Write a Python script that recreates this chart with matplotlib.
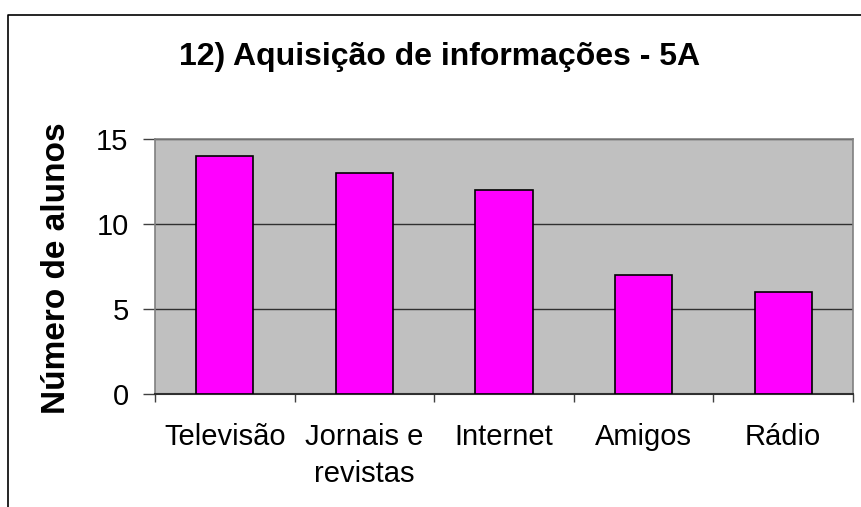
import matplotlib
matplotlib.use("Agg")
import matplotlib.pyplot as plt
from matplotlib.lines import Line2D
import numpy as np

plt.rcParams['font.family'] = ['Liberation Sans', 'DejaVu Sans']

categories = ["Televisão", "Jornais e\nrevistas", "Internet", "Amigos", "Rádio"]
values = [14, 13, 12, 7, 6]
yticks = [0, 5, 10, 15]
title = "12) Aquisição de informações - 5A"
ylabel = "Número de alunos"

W, H = 861, 507
fig = plt.figure(figsize=(W / 100, H / 100), dpi=100)
fig.patch.set_facecolor("white")

# outer chart border (left and top visible)
fig.add_artist(Line2D([8 / W, 8 / W, 1.0], [0.0, 1 - 15 / H, 1 - 15 / H],
                      transform=fig.transFigure, color="black", lw=1.2))

ax = fig.add_axes([155 / W, 1 - 394 / H, (853 - 155) / W, (394 - 139) / H])
ax.set_facecolor("#C0C0C0")

x = np.arange(len(categories))
ax.bar(x, values, width=0.41, color="#FF00FF", edgecolor="black", linewidth=1.2, zorder=3)

ax.set_xlim(-0.5, len(categories) - 0.5)
ax.set_ylim(0, 15)
ax.set_yticks(yticks)
ax.set_yticklabels([str(v) for v in yticks], fontsize=21)
ax.set_xticks(x)
ax.set_xticklabels(categories, fontsize=21, linespacing=1.42, va="top")
ax.set_xticks(np.arange(-0.5, len(categories), 1.0), minor=True)

ax.tick_params(axis="x", which="major", length=0, pad=21)
ax.tick_params(axis="x", which="minor", length=6, width=1, color="#404040", direction="out")
ax.tick_params(axis="y", which="major", length=9, width=1, color="#404040", direction="out", pad=10)

ax.yaxis.grid(True, color="#303030", linewidth=1, zorder=1)
ax.set_axisbelow(True)

for s in ["top", "right"]:
    ax.spines[s].set_color("#808080")
    ax.spines[s].set_linewidth(1.2)
ax.spines["left"].set_color("#808080")
ax.spines["left"].set_linewidth(1.2)
ax.spines["bottom"].set_color("#303030")
ax.spines["bottom"].set_linewidth(1.5)

fig.text(440 / W, 1 - 57 / H, title, ha="center", va="center", fontsize=23, fontweight="bold")
fig.text(57 / W, 1 - 268 / H, ylabel, ha="center", va="center", rotation=90,
         fontsize=24, fontweight="bold")

fig.savefig("out.png", dpi=100)
